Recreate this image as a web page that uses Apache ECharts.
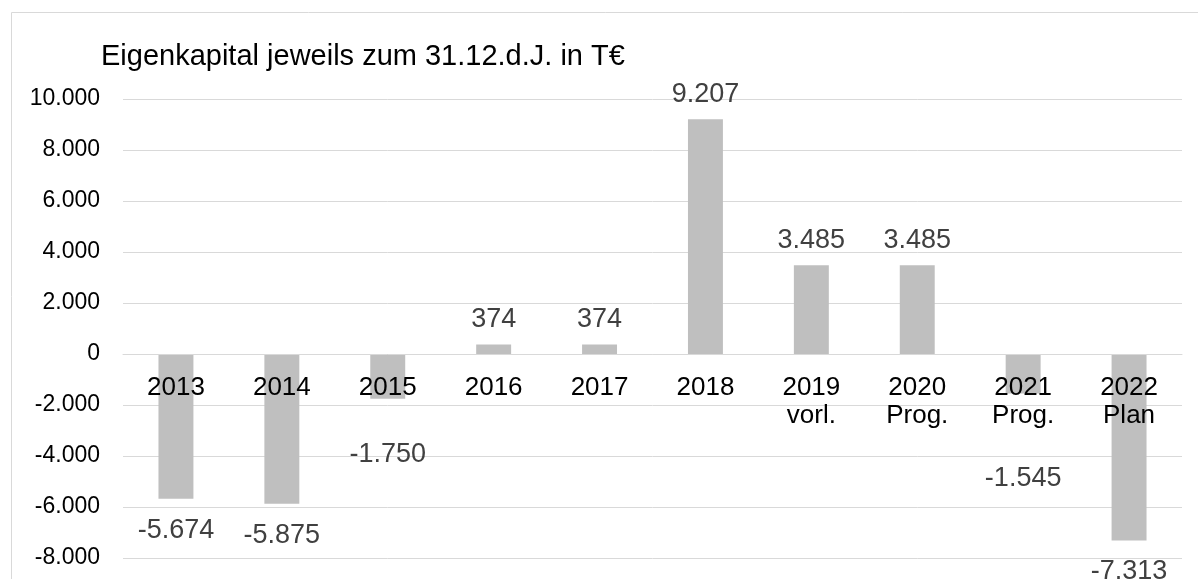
<!DOCTYPE html>
<html>
<head>
<meta charset="utf-8">
<script src="https://cdn.jsdelivr.net/npm/echarts@6/dist/echarts.min.js"></script>
<style>
  html, body { margin: 0; padding: 0; background: #fff; }
  #chart { width: 1198px; height: 579px; }
</style>
</head>
<body>
<div id="chart"></div>
<script>
// Daten
var years = ['2013', '2014', '2015', '2016', '2017', '2018', '2019\nvorl.', '2020\nProg.', '2021\nProg.', '2022\nPlan'];
var equity = [-5674, -5875, -1750, 374, 374, 9207, 3485, 3485, -1545, -7313];
var titleText = 'Eigenkapital jeweils zum 31.12.d.J. in T€';

// extra vertical shift of single value labels (px), as in the original sheet
var labelShift = [0, 0, 24, 0, 0, 0, 0, 0, 54, 0];

var fmt = function (v) {
    var s = Math.abs(v).toString().replace(/\B(?=(\d{3})+(?!\d))/g, '.');
    return (v < 0 ? '-' : '') + s;
};

var chart = echarts.init(document.getElementById('chart'));

var barData = equity.map(function (v, i) {
    return {
        value: v,
        label: {
            position: v < 0 ? 'bottom' : 'top',
            distance: v < 0 ? 18 : 11,
            offset: [0, labelShift[i]]
        }
    };
});

var option = {
    animation: false,
    textStyle: { fontFamily: '"Liberation Sans", Arial, sans-serif' },
    title: {
        text: titleText,
        left: 96,
        top: 37,
        textStyle: { fontSize: 29, fontWeight: 'normal', color: '#000' }
    },
    graphic: [{
        type: 'rect',
        shape: { x: 11.5, y: 12.5, width: 1300, height: 700 },
        style: { fill: 'none', stroke: '#d9d9d9', lineWidth: 1 },
        silent: true
    }],
    grid: { left: 123, right: 16, top: 99, bottom: 21, outerBoundsMode: 'none', containLabel: false },
    xAxis: {
        type: 'category',
        data: years,
        offset: -204,   // Achse liegt auf der Nulllinie
        z: 10,          // Beschriftung über den Balken
        axisTick: { show: false },
        axisLine: { onZero: false, lineStyle: { color: '#d9d9d9', width: 1 } },
        axisLabel: {
            interval: 0,
            margin: 20,
            fontSize: 26,
            lineHeight: 28,
            color: '#000',
            verticalAlign: 'top'
        }
    },
    yAxis: {
        type: 'value',
        min: -8000,
        max: 10000,
        interval: 2000,
        axisLine: { show: false },
        axisTick: { show: false },
        splitLine: { lineStyle: { color: '#d9d9d9', width: 1 } },
        axisLabel: {
            margin: 23,
            fontSize: 23,
            color: '#000',
            formatter: fmt
        }
    },
    series: [{
        type: 'bar',
        data: barData,
        barWidth: '33%',
        z: 1,
        itemStyle: { color: '#bfbfbf' },
        label: {
            show: true,
            fontSize: 27,
            color: '#404040',
            formatter: function (p) { return fmt(p.value); }
        }
    }]
};

chart.setOption(option);
window.addEventListener('resize', function () {
    chart.resize();
});
</script>
</body>
</html>
